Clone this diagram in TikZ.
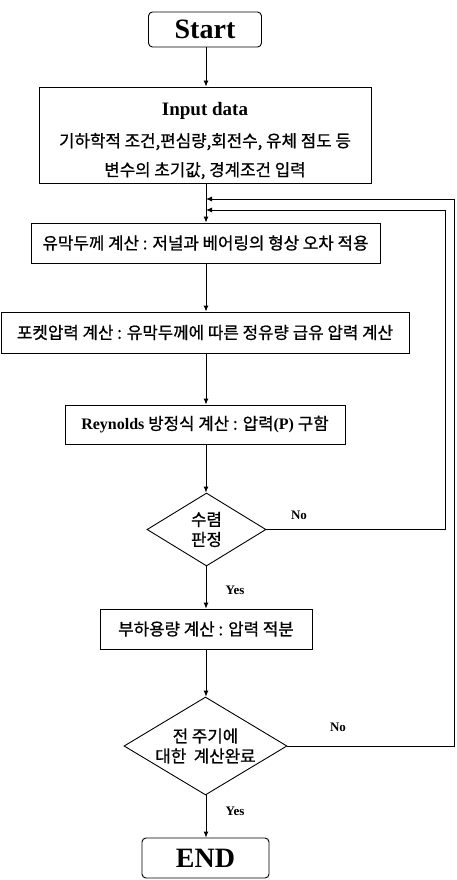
\documentclass[tikz,border=0pt]{standalone}
\usepackage{fontspec}
\setmainfont{Liberation Serif}
\newfontfamily\kr[FakeBold=0.8]{Noto Sans CJK KR}
\usetikzlibrary{shapes.geometric,arrows.meta}
\begin{document}
\begin{tikzpicture}[x=1pt,y=-1pt,
  line width=0.9pt,
  arr/.style={-{Latex[length=6pt,width=5pt]}},
  box/.style={draw,rectangle,inner sep=0pt,font=\kr\fontsize{16.8}{19}\selectfont},
  term/.style={draw,rectangle,rounded corners=4pt,inner sep=0pt,font=\bfseries\fontsize{28}{30}\selectfont},
  dec/.style={draw,diamond,inner sep=0pt},
  dectext/.style={inner sep=0pt,font=\kr\fontsize{16.8}{20}\selectfont,align=center},
  lab/.style={font=\bfseries\fontsize{13}{15}\selectfont,inner sep=0pt}]
\useasboundingbox (0,0) rectangle (456,880);
\node[term,minimum width=113pt,minimum height=35pt] (start) at (205,29.5) {Start};
\node[box,minimum width=332pt,minimum height=96pt] (input) at (205,135) {};
\node[inner sep=0pt,align=center,font=\kr\fontsize{16.8}{19}\selectfont] (inputt) at (205,141)
  {{\rmfamily\bfseries\fontsize{19}{20}\selectfont Input data}\\[12pt]
   기하학적 조건,편심량,회전수, 유체 점도 등\\[10pt]
   변수의 초기값, 경계조건 입력};
\node[box,minimum width=349pt,minimum height=40pt] (b1) at (205.5,243) {유막두께 계산 : 저널과 베어링의 형상 오차 적용};
\node[box,minimum width=408pt,minimum height=41pt] (b2) at (205,332.5) {포켓압력 계산 : 유막두께에 따른 정유량 급유 압력 계산};
\node[box,minimum width=280pt,minimum height=39pt] (b3) at (205,424.5)
  {{\rmfamily\bfseries\fontsize{16}{18}\selectfont Reynolds} 방정식 계산 : 압력{\rmfamily\bfseries\fontsize{16}{18}\selectfont (P)} 구함};
\node[dec,minimum width=119pt,minimum height=73pt] (d1) at (206.5,529.5) {};
\node[dectext] (d1t) at (d1.center) {수렴\\판정};
\node[box,minimum width=212pt,minimum height=40pt] (b4) at (206,629) {부하용량 계산 : 압력 적분};
\node[dec,minimum width=163pt,minimum height=98pt] (d2) at (205.5,746) {};
\node[dectext] (d2t) at (d2.center) {전 주기에\\대한 \ 계산완료};
\node[term,minimum width=127pt,minimum height=40pt] (end) at (205.5,858) {END};

\coordinate (j1) at (206,199);
\coordinate (j2) at (206,210);
\coordinate (r1) at (445.5,210);
\coordinate (r2) at (454,199);

\draw[arr] (start.south -| j1) -- (input.north -| j1);
\draw[arr] (input.south -| j1) -- (b1.north -| j1);
\draw[arr] (b1.south -| j1) -- (b2.north -| j1);
\draw[arr] (b2.south -| j1) -- (b3.north -| j1);
\draw[arr] (b3.south -| j1) -- (d1.north -| j1);
\draw[arr] (d1.south -| j1) -- (b4.north -| j1);
\draw[arr] (b4.south -| j1) -- (d2.north -| j1);
\draw[arr] (d2.south -| j1) -- (end.north -| j1);
\draw[arr] (d1.east) -| (r1) -- (j2);
\draw[arr] (d2.east) -| (r2) -- (j1);

\node[lab] (no1) at (299,515) {No};
\node[lab] (yes1) at (235,590) {Yes};
\node[lab] (no2) at (338,727) {No};
\node[lab] (yes2) at (235,811) {Yes};
\end{tikzpicture}
\end{document}
